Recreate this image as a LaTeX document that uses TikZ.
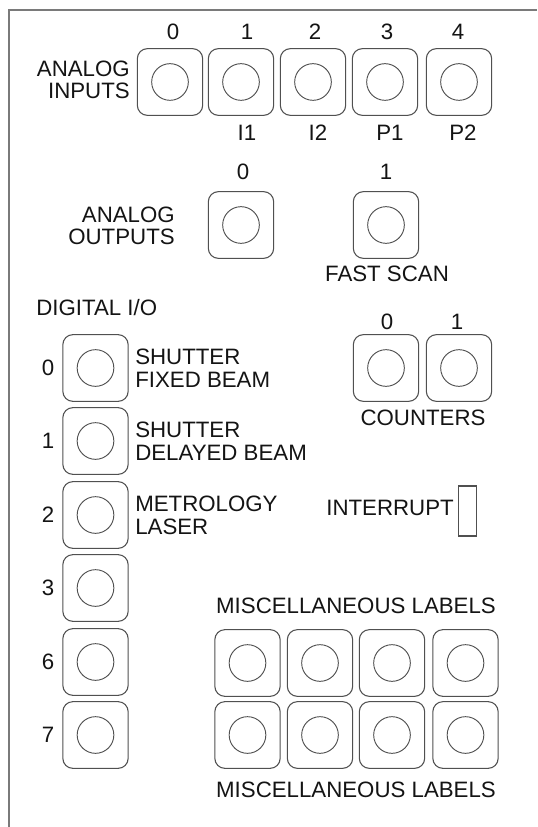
\documentclass[tikz,border=0pt]{standalone}
\usepackage{fontspec}
\setmainfont{Liberation Sans}
\definecolor{linecol}{HTML}{505050}
\definecolor{txtcol}{HTML}{141414}
\definecolor{bordercol}{HTML}{7A7A7A}
\begin{document}
\begin{tikzpicture}[x=0.75pt,y=-0.75pt,
  jack/.style={draw=linecol, line width=0.8pt, rounded corners=7.5pt,
    minimum width=49pt, minimum height=50pt, inner sep=0pt},
  hole/.style={draw=linecol, line width=0.7pt, circle, minimum size=27.5pt, inner sep=0pt},
  lbl/.style={text=txtcol, inner sep=0pt, font=\fontsize{16.7}{17}\selectfont},
  lblL/.style={lbl, align=left, anchor=west},
  lblR/.style={lbl, align=right, anchor=east}]
\useasboundingbox (0,0) rectangle (537,827);
\fill[white] (0,0) rectangle (537,827);
\draw[bordercol, line width=1.5pt] (9,827) -- (9,10) -- (537,10);

% Analog inputs
\node[lblR] (ailbl) at (130,80) {ANALOG\\INPUTS};
\foreach \i/\x/\tx in {0/170/173,1/241/247,2/313/315,3/385/387,4/459/458}{
  \node[jack] (ai\i) at (\x,82) {};
  \node[hole] (aih\i) at (ai\i) {};
  \node[lbl] (ain\i) at (\tx,32) {\i};
}
\node[lbl] (ail1) at (247,133) {I1};
\node[lbl] (ail2) at (318,133) {I2};
\node[lbl] (ail3) at (390,133) {P1};
\node[lbl] (ail4) at (463,133) {P2};

% Analog outputs
\node[lblR] (aolbl) at (175,226) {ANALOG\\OUTPUTS};
\node[jack] (ao0) at (241,225) {};
\node[hole] (aoh0) at (ao0) {};
\node[lbl] (aon0) at (243,172) {0};
\node[jack] (ao1) at (386,225) {};
\node[hole] (aoh1) at (ao1) {};
\node[lbl] (aon1) at (386,172) {1};
\node[lbl] (fast) at (387,274) {FAST SCAN};

% Digital I/O
\node[lbl, anchor=west] (diglbl) at (36,308) {DIGITAL I/O};
\foreach \n/\y in {0/368,1/441,2/515,3/588,6/662,7/735}{
  \node[jack] (d\n) at (95.5,\y) {};
  \node[hole] (dh\n) at (d\n) {};
  \node[lbl] (dn\n) at (48,\y) {\n};
}
\node[lblL] (dl0) at (135,368) {SHUTTER\\FIXED BEAM};
\node[lblL] (dl1) at (135,441) {SHUTTER\\DELAYED BEAM};
\node[lblL] (dl2) at (135,515) {METROLOGY\\LASER};

% Counters
\node[jack] (c0) at (386,368) {};
\node[hole] (ch0) at (c0) {};
\node[lbl] (cn0) at (387,322) {0};
\node[jack] (c1) at (459,368) {};
\node[hole] (ch1) at (c1) {};
\node[lbl] (cn1) at (457,322) {1};
\node[lbl] (cntlbl) at (423,418) {COUNTERS};

% Interrupt
\node[lbl, anchor=east] (intlbl) at (454,508) {INTERRUPT};
\node[draw=linecol, line width=0.8pt, minimum width=14pt, minimum height=37.5pt, inner sep=0pt] (intbox) at (467.5,511) {};

% Misc
\node[lbl] (misctop) at (356,606) {MISCELLANEOUS LABELS};
\foreach \c/\x in {1/247.5,2/320,3/392,4/465.5}{
  \node[jack] (ma\c) at (\x,663) {};
  \node[hole] (mah\c) at (ma\c) {};
  \node[jack] (mb\c) at (\x,735) {};
  \node[hole] (mbh\c) at (mb\c) {};
}
\node[lbl] (miscbot) at (356,790) {MISCELLANEOUS LABELS};
\end{tikzpicture}
\end{document}
